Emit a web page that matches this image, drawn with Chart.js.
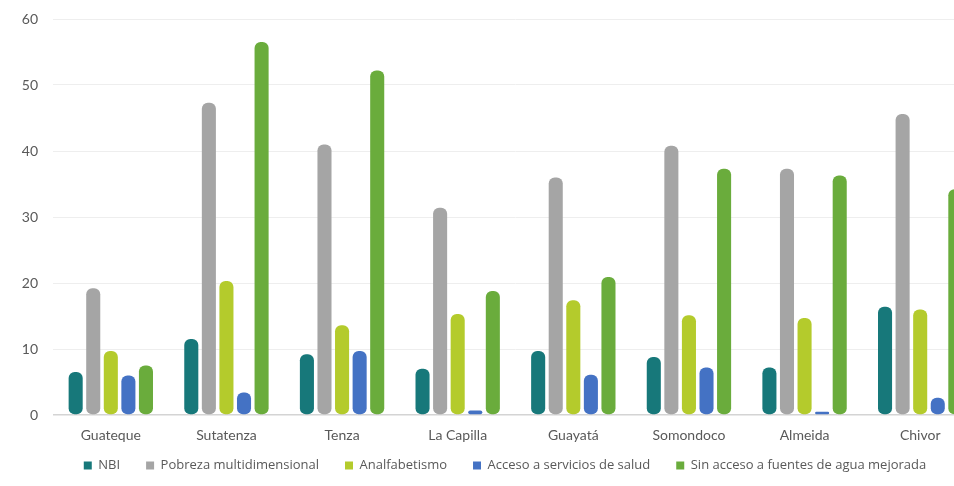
<!DOCTYPE html>
<html>
<head>
<meta charset="utf-8">
<script src="https://cdn.jsdelivr.net/npm/chart.js@4.4.1/dist/chart.umd.min.js"></script>
<style>
  html, body { margin: 0; padding: 0; background: #fff; overflow: hidden; }
  #wrap { width: 954px; height: 486px; overflow: hidden; }
</style>
</head>
<body>
<div id="wrap"><canvas id="my-chart" width="1010" height="486"></canvas></div>
<script>
const municipios = ['Guateque', 'Sutatenza', 'Tenza', 'La Capilla', 'Guayatá', 'Somondoco', 'Almeida', 'Chivor'];
const nbi       = [6.5, 11.5, 9.2, 7.0, 9.7, 8.8, 7.2, 16.4];
const pobreza   = [19.2, 47.3, 41.0, 31.4, 36.0, 40.8, 37.3, 45.6];
const analfab   = [9.7, 20.3, 13.6, 15.3, 17.4, 15.1, 14.7, 16.0];
const salud     = [6.0, 3.4, 9.7, 0.7, 6.1, 7.2, 0.5, 2.6];
const agua      = [7.5, 56.5, 52.2, 18.8, 20.9, 37.3, 36.3, 34.2];
const yTicks    = [0, 10, 20, 30, 40, 50, 60];

const seriesNames  = ['NBI', 'Pobreza multidimensional', 'Analfabetismo', 'Acceso a servicios de salud', 'Sin acceso a fuentes de agua mejorada'];
const seriesValues = [nbi, pobreza, analfab, salud, agua];
const seriesColors = ['#17787a', '#a5a5a5', '#b4cb2c', '#4472c4', '#6aac3c'];

// move the legend right and up a little, like the original
const legendShift = {
    id: 'legendShift',
    afterLayout: chart => {
        const lg = chart.legend;
        lg.left += 16;
        lg.right += 16;
        lg.top -= 13;
        lg.bottom -= 13;
    }
};

let ctx = document.getElementById('my-chart').getContext('2d');

const barChart = new Chart(ctx, {
    type: 'bar',
    data: {
        labels: municipios,
        datasets: seriesNames.map((name, i) => ({
            label: name,
            data: seriesValues[i],
            backgroundColor: seriesColors[i],
            borderRadius: 6,
            borderSkipped: false,
            categoryPercentage: 0.76,
            barPercentage: 0.8
        }))
    },
    plugins: [legendShift],
    options: {
        responsive: false,
        devicePixelRatio: 1,
        animation: false,
        layout: { padding: { top: 19, right: 32, left: 0, bottom: -9 } },
        plugins: {
            legend: {
                position: 'bottom',
                labels: {
                    boxWidth: 8,
                    boxHeight: 8,
                    padding: 26,
                    color: '#595959',
                    font: { family: 'Open Sans', size: 13 }
                }
            },
            tooltip: { enabled: false }
        },
        scales: {
            y: {
                min: 0,
                max: 60,
                afterFit: s => {
                    s.width = 53;
                    s.paddingTop = 0;
                    s.paddingBottom = 0;
                },
                afterBuildTicks: s => { s.ticks = yTicks.map(v => ({ value: v })); },
                border: { display: false },
                grid: {
                    drawTicks: false,
                    color: c => c.tick.value === 0 ? '#d4d4d4' : '#eeeeee',
                    lineWidth: c => c.tick.value === 0 ? 1.5 : 1
                },
                ticks: {
                    padding: 15,
                    color: '#595959',
                    font: { family: 'Lato', size: 14 }
                }
            },
            x: {
                afterFit: s => { s.height = 31; },
                border: { display: false },
                grid: { display: false, drawTicks: false },
                ticks: {
                    padding: 12,
                    color: '#595959',
                    font: { family: 'Lato', size: 14 }
                }
            }
        }
    }
});
</script>
</body>
</html>
